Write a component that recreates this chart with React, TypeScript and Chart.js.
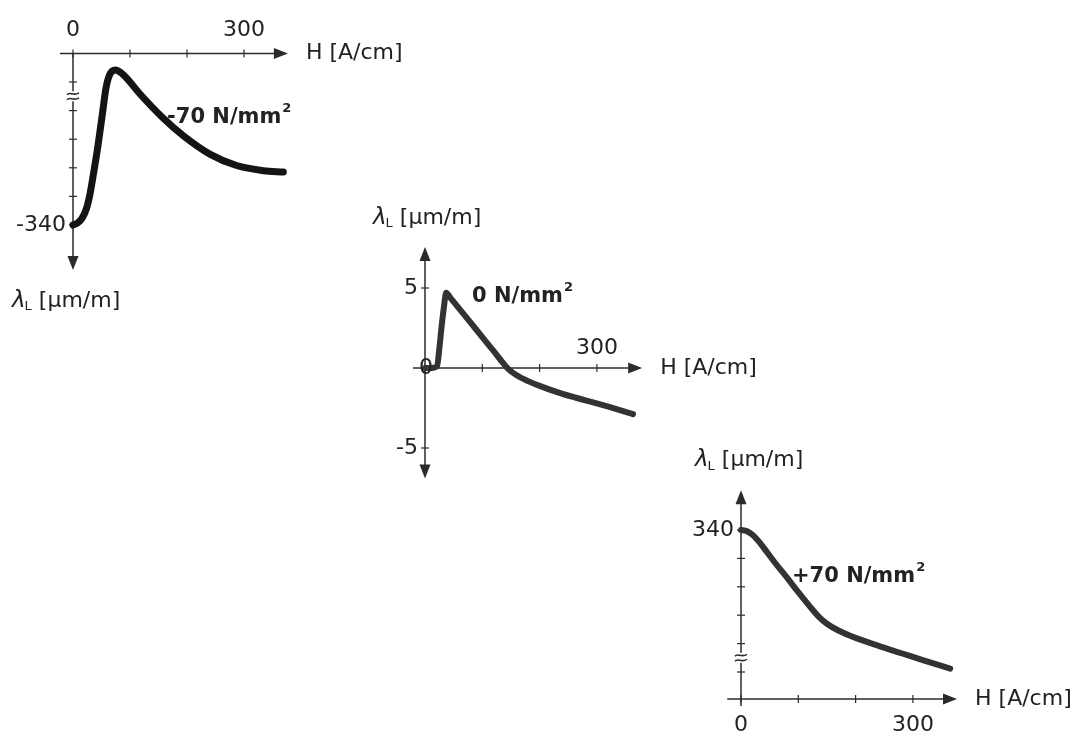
import React, { useEffect, useRef } from "react";
import { Chart, registerables } from "chart.js";
Chart.register(...registerables);

// ---------- Data ----------
// Panel 1: -70 N/mm²
const p1H = [0, 8, 16, 24, 30, 36, 44, 52, 58, 64, 74, 88, 117.5, 158, 193.5, 240, 287, 334, 369];
const p1L = [-340, -339.3, -337.6, -334, -329, -322, -312, -300.5, -292, -287.6, -285.8, -287.4, -294.2, -302.6, -308.8, -315.2, -319.2, -321.0, -321.5];
const p1XTicks = [0, 100, 200, 300];
const p1XTickLabels = ["0", "", "", "300"];
const p1YTicks = [-340, -330, -320, -310, -300, -290];
const p1YTickLabels = ["-340", "", "", "", "", ""];

// Panel 2: 0 N/mm²
const p2H = [0, 12, 21, 25, 29, 33, 37, 45, 60, 80, 100, 120, 132, 145, 160, 180, 200, 240, 280, 320, 363];
const p2L = [0, 0, 0.1, 1.2, 2.6, 3.8, 4.7, 4.35, 3.7, 2.82, 1.93, 1.05, 0.5, -0.05, -0.45, -0.82, -1.12, -1.62, -2.02, -2.42, -2.88];
const p2XTicks = [0, 100, 200, 300];
const p2XTickLabels = ["", "", "", "300"];
const p2YTicks = [5, -5];
const p2YTickLabels = ["5", "-5"];

// Panel 3: +70 N/mm²
const p3H = [0, 10, 20, 30, 45, 60, 80, 100, 120, 135, 150, 170, 200, 240, 280, 320, 365];
const p3L = [340, 339.6, 338.3, 336.2, 332.3, 328.3, 323.3, 318.1, 313.1, 309.6, 307, 304.6, 302, 299.2, 296.6, 294, 291.2];
const p3XTicks = [0, 100, 200, 300];
const p3XTickLabels = ["0", "", "", "300"];
const p3YTicks = [340, 330, 320, 310, 300, 290];
const p3YTickLabels = ["340", "", "", "", "", ""];

const stressLabels = ["-70 N/mm", "0 N/mm", "+70 N/mm"];
const xTitle = "H [A/cm]";
const yTitleUnit = " [μm/m]";

// ---------- Styles / layout ----------
const FONT = '"DejaVu Sans", sans-serif';
const AXIS = "#2b2b2b";
const TEXT = "#222";

type Cfg = {
  box: [number, number, number, number];
  refPx: [number, number];
  xRef: number;
  yRef: number;
  kx: number;
  ky: number;
  xs: number[];
  ys: number[];
  lineColor: string;
  lineWidth: number;
  xAxisAt: number;
  xFrom: number;
  xTo: number;
  yFrom: number;
  yTo: number;
  yArrowTop: boolean;
  yArrowBottom: boolean;
  xTicks: number[];
  xTickLabels: string[];
  xTickLabelDy: number;
  yTicks: number[];
  yTickLabels: string[];
  originLabel: boolean;
  breakAt: number | null;
  yTitlePos: [number, number];
  yTitleAtTop: boolean;
  stress: string;
  stressAt: [number, number];
};

const panels: Cfg[] = [
  {
    box: [0, 0, 440, 320],
    refPx: [73, 225],
    xRef: 0,
    yRef: -340,
    kx: 0.57,
    ky: 2.86,
    xs: p1H,
    ys: p1L,
    lineColor: "#141414",
    lineWidth: 7,
    xAxisAt: -280,
    xFrom: -23,
    xTo: 377,
    yFrom: -280,
    yTo: -355.7,
    yArrowTop: false,
    yArrowBottom: true,
    xTicks: p1XTicks,
    xTickLabels: p1XTickLabels,
    xTickLabelDy: -23,
    yTicks: p1YTicks,
    yTickLabels: p1YTickLabels,
    originLabel: false,
    breakAt: -295,
    yTitlePos: [-61, 31],
    yTitleAtTop: false,
    stress: stressLabels[0],
    stressAt: [165, -302.6],
  },
  {
    box: [360, 195, 420, 290],
    refPx: [425, 368],
    xRef: 0,
    yRef: 0,
    kx: 0.573,
    ky: 16,
    xs: p2H,
    ys: p2L,
    lineColor: "#333",
    lineWidth: 6,
    xAxisAt: 0,
    xFrom: -21,
    xTo: 379,
    yFrom: -6.9,
    yTo: 7.56,
    yArrowTop: true,
    yArrowBottom: true,
    xTicks: p2XTicks,
    xTickLabels: p2XTickLabels,
    xTickLabelDy: -20,
    yTicks: p2YTicks,
    yTickLabels: p2YTickLabels,
    originLabel: true,
    breakAt: null,
    yTitlePos: [-52, -29],
    yTitleAtTop: true,
    stress: stressLabels[1],
    stressAt: [82, 4.44],
  },
  {
    box: [680, 440, 400, 304],
    refPx: [741, 530],
    xRef: 0,
    yRef: 340,
    kx: 0.573,
    ky: 2.84,
    xs: p3H,
    ys: p3L,
    lineColor: "#333",
    lineWidth: 6,
    xAxisAt: 280.5,
    xFrom: -24,
    xTo: 377,
    yFrom: 278,
    yTo: 354,
    yArrowTop: true,
    yArrowBottom: false,
    xTicks: p3XTicks,
    xTickLabels: p3XTickLabels,
    xTickLabelDy: 26,
    yTicks: p3YTicks,
    yTickLabels: p3YTickLabels,
    originLabel: false,
    breakAt: 295,
    yTitlePos: [-46, -30],
    yTitleAtTop: true,
    stress: stressLabels[2],
    stressAt: [89, 323.5],
  },
];

const ARW_LEN = 14;
const ARW_HALF = 5.5;

function arrow(ctx: CanvasRenderingContext2D, x: number, y: number, dir: "r" | "u" | "d") {
  ctx.beginPath();
  if (dir === "r") {
    ctx.moveTo(x, y);
    ctx.lineTo(x - ARW_LEN, y - ARW_HALF);
    ctx.lineTo(x - ARW_LEN, y + ARW_HALF);
  } else if (dir === "u") {
    ctx.moveTo(x, y);
    ctx.lineTo(x - ARW_HALF, y + ARW_LEN);
    ctx.lineTo(x + ARW_HALF, y + ARW_LEN);
  } else {
    ctx.moveTo(x, y);
    ctx.lineTo(x - ARW_HALF, y - ARW_LEN);
    ctx.lineTo(x + ARW_HALF, y - ARW_LEN);
  }
  ctx.closePath();
  ctx.fill();
}

function seg(ctx: CanvasRenderingContext2D, x1: number, y1: number, x2: number, y2: number) {
  ctx.beginPath();
  ctx.moveTo(x1, y1);
  ctx.lineTo(x2, y2);
  ctx.stroke();
}

function drawLambda(ctx: CanvasRenderingContext2D, x: number, y: number) {
  ctx.textAlign = "left";
  ctx.textBaseline = "middle";
  ctx.font = `oblique 23px ${FONT}`;
  ctx.fillText("λ", x, y);
  let w = ctx.measureText("λ").width;
  ctx.font = `13px ${FONT}`;
  ctx.fillText("L", x + w - 1, y + 6);
  w += ctx.measureText("L").width - 1;
  ctx.font = `22px ${FONT}`;
  ctx.fillText(yTitleUnit, x + w, y);
}

function makePlugin(cfg: Cfg) {
  return {
    id: "sketchAxes",
    beforeDatasetsDraw(chart: any) {
      const ctx: CanvasRenderingContext2D = chart.ctx;
      const X = (v: number) => chart.scales.x.getPixelForValue(v);
      const Y = (v: number) => chart.scales.y.getPixelForValue(v);
      ctx.save();
      ctx.strokeStyle = AXIS;
      ctx.fillStyle = AXIS;
      ctx.lineWidth = 1.5;
      const ay = Y(cfg.xAxisAt);
      const ax = X(0);
      seg(ctx, X(cfg.xFrom), ay, X(cfg.xTo) - ARW_LEN + 2, ay);
      arrow(ctx, X(cfg.xTo), ay, "r");
      const yTopPx = Y(Math.max(cfg.yFrom, cfg.yTo));
      const yBotPx = Y(Math.min(cfg.yFrom, cfg.yTo));
      seg(ctx, ax, yTopPx + (cfg.yArrowTop ? ARW_LEN - 2 : 0), ax, yBotPx - (cfg.yArrowBottom ? ARW_LEN - 2 : 0));
      if (cfg.yArrowTop) arrow(ctx, ax, yTopPx, "u");
      if (cfg.yArrowBottom) arrow(ctx, ax, yBotPx, "d");
      ctx.lineWidth = 1.2;
      cfg.xTicks.forEach((v) => seg(ctx, X(v), ay - 4, X(v), ay + 4));
      cfg.yTicks.forEach((v) => seg(ctx, ax - 4, Y(v), ax + 4, Y(v)));
      if (cfg.breakAt !== null) {
        const by = Y(cfg.breakAt);
        ctx.fillStyle = "#fff";
        ctx.fillRect(ax - 6, by - 5, 12, 10);
        ctx.lineWidth = 1.6;
        [-2.5, 2.5].forEach((dy) => {
          ctx.beginPath();
          ctx.moveTo(ax - 6, by + dy + 1);
          ctx.bezierCurveTo(ax - 3, by + dy - 3, ax, by + dy + 3, ax + 6, by + dy - 1);
          ctx.stroke();
        });
      }
      ctx.restore();
    },
    afterDatasetsDraw(chart: any) {
      const ctx: CanvasRenderingContext2D = chart.ctx;
      const X = (v: number) => chart.scales.x.getPixelForValue(v);
      const Y = (v: number) => chart.scales.y.getPixelForValue(v);
      const ay = Y(cfg.xAxisAt);
      const ax = X(0);
      ctx.save();
      ctx.fillStyle = TEXT;
      ctx.font = `22px ${FONT}`;
      ctx.textBaseline = "middle";
      ctx.textAlign = "center";
      cfg.xTicks.forEach((v, i) => {
        if (cfg.xTickLabels[i]) ctx.fillText(cfg.xTickLabels[i], X(v), ay + cfg.xTickLabelDy);
      });
      if (cfg.originLabel) ctx.fillText("0", ax + 1, ay);
      ctx.textAlign = "right";
      cfg.yTicks.forEach((v, i) => {
        if (cfg.yTickLabels[i]) ctx.fillText(cfg.yTickLabels[i], ax - 7, Y(v));
      });
      ctx.textAlign = "left";
      ctx.fillText(xTitle, X(cfg.xTo) + 18, ay);
      const tipY = cfg.yTitleAtTop ? Y(Math.max(cfg.yFrom, cfg.yTo)) : Y(Math.min(cfg.yFrom, cfg.yTo));
      drawLambda(ctx, ax + cfg.yTitlePos[0], tipY + cfg.yTitlePos[1]);
      const sx = X(cfg.stressAt[0]);
      const sy = Y(cfg.stressAt[1]);
      ctx.font = `bold 21px ${FONT}`;
      ctx.textAlign = "left";
      ctx.fillText(cfg.stress, sx, sy);
      const w = ctx.measureText(cfg.stress).width;
      ctx.font = `bold 13px ${FONT}`;
      ctx.fillText("2", sx + w + 1, sy - 9);
      ctx.restore();
    },
  };
}

function Panel({ cfg }: { cfg: Cfg }) {
  const ref = useRef<HTMLCanvasElement>(null);
  const [left, top, w, h] = cfg.box;
  useEffect(() => {
    const xMin = cfg.xRef - (cfg.refPx[0] - left) / cfg.kx;
    const xMax = xMin + w / cfg.kx;
    const yMax = cfg.yRef + (cfg.refPx[1] - top) / cfg.ky;
    const yMin = yMax - h / cfg.ky;
    const chart = new Chart(ref.current as HTMLCanvasElement, {
      type: "line",
      data: {
        datasets: [
          {
            data: cfg.xs.map((x, i) => ({ x, y: cfg.ys[i] })),
            borderColor: cfg.lineColor,
            borderWidth: cfg.lineWidth,
            pointRadius: 0,
            cubicInterpolationMode: "monotone",
            borderCapStyle: "round",
            borderJoinStyle: "round",
            fill: false,
            clip: false as any,
          },
        ],
      },
      options: {
        animation: false,
        responsive: false,
        devicePixelRatio: 1,
        layout: { padding: 0 },
        events: [],
        plugins: { legend: { display: false }, tooltip: { enabled: false }, title: { display: false } },
        scales: {
          x: { type: "linear", min: xMin, max: xMax, display: false },
          y: { type: "linear", min: yMin, max: yMax, display: false },
        },
      },
      plugins: [makePlugin(cfg) as any],
    });
    return () => chart.destroy();
  }, []);
  return (
    <canvas
      ref={ref}
      width={w}
      height={h}
      style={{ position: "absolute", left, top, width: w, height: h }}
    />
  );
}

export default function App() {
  return (
    <div
      style={{
        position: "absolute",
        left: 0,
        top: 0,
        width: 1080,
        height: 744,
        background: "#fff",
        overflow: "hidden",
      }}
    >
      {panels.map((p, i) => (
        <Panel key={i} cfg={p} />
      ))}
    </div>
  );
}
